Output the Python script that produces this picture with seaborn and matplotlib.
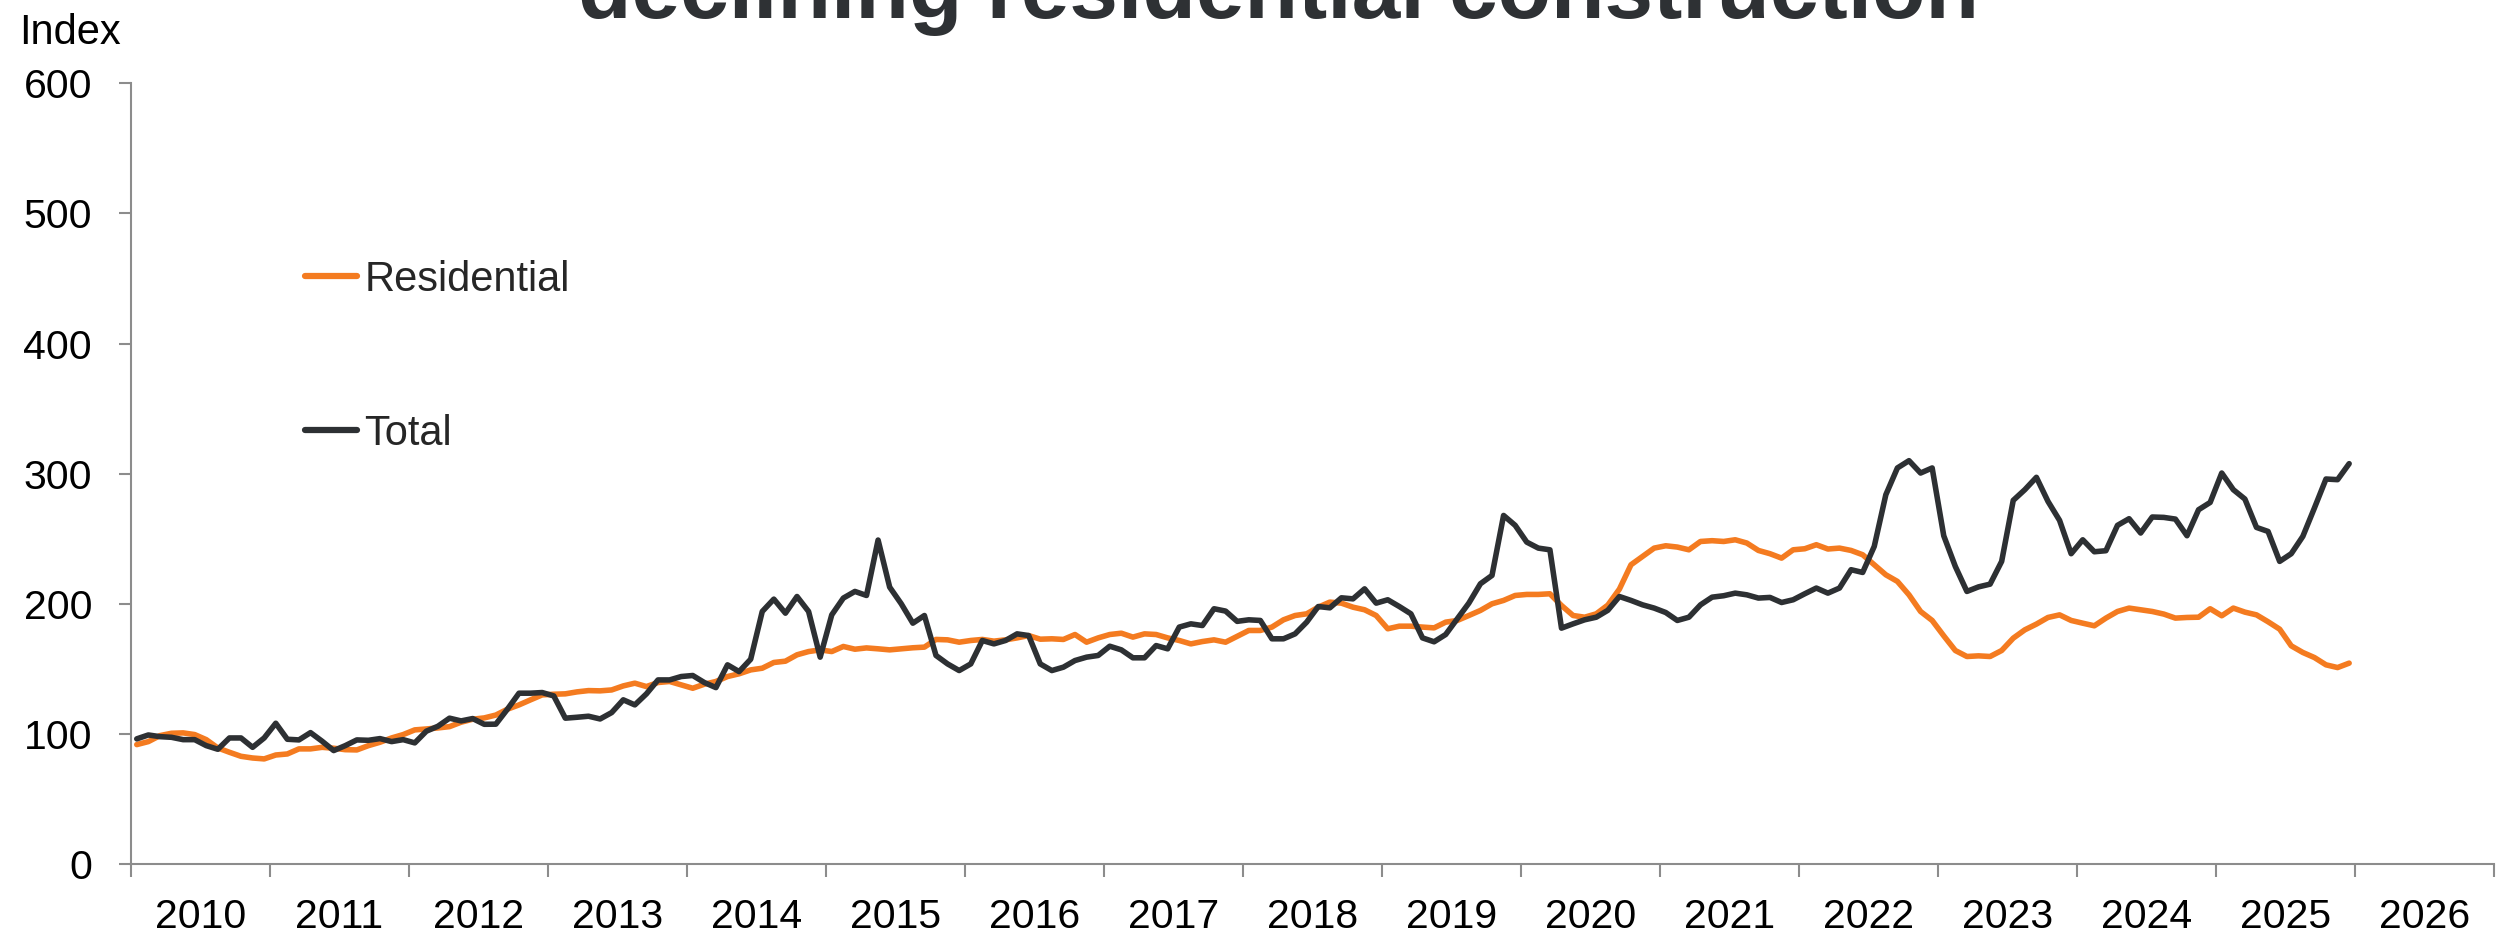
import numpy as np
import pandas as pd
import matplotlib
matplotlib.use("Agg")
import matplotlib.pyplot as plt
import seaborn as sns
from matplotlib.lines import Line2D

# ---------------- data (monthly index, Jan 2010 .. Dec 2025) ----------------
start_month = "2010-01"
n_months = 192

residential = [
    91.8, 94.1, 98.7, 100.5, 100.8, 99.5, 95.6, 89.2, 85.9, 82.8, 81.5, 80.8,
    83.8, 84.6, 88.5, 88.5, 89.7, 89.0, 87.9, 87.7, 91.0, 93.6, 96.9, 99.5,
    103.1, 103.8, 104.6, 105.6, 109.0, 111.3, 112.3, 114.5, 119.0, 122.3, 126.2, 130.0,
    130.5, 130.8, 132.3, 133.3, 133.1, 133.8, 136.9, 139.0, 136.4, 139.5, 140.3, 137.7,
    135.1, 138.2, 140.3, 144.1, 146.2, 149.2, 150.5, 154.9, 155.9, 160.8, 163.3, 164.6,
    163.3, 167.2, 165.1, 166.1, 165.4, 164.6, 165.4, 166.2, 166.7, 172.6, 172.3, 170.5,
    171.8, 172.6, 171.3, 172.3, 173.8, 175.6, 172.8, 173.1, 172.6, 176.4, 170.5, 173.8,
    176.4, 177.4, 174.4, 176.9, 176.4, 173.8, 171.8, 169.2, 171.0, 172.3, 170.5, 175.0,
    179.5, 179.5, 182.1, 187.7, 191.0, 192.3, 197.4, 201.3, 200.5, 197.4, 195.4, 191.0,
    180.8, 182.8, 182.8, 182.1, 181.5, 185.9, 187.2, 191.0, 194.9, 200.0, 202.6, 206.4,
    207.2, 207.2, 207.7, 198.7, 191.0, 189.7, 192.3, 199.0, 211.3, 230.0, 236.4, 242.8,
    244.6, 243.6, 241.5, 247.9, 248.5, 247.9, 249.2, 246.7, 241.0, 238.5, 235.1, 241.5,
    242.3, 245.4, 242.1, 242.8, 241.0, 237.7, 230.0, 222.3, 217.2, 206.9, 194.1, 187.2,
    175.4, 164.1, 159.5, 160.0, 159.5, 164.1, 173.6, 180.0, 184.4, 189.5, 191.5, 187.2,
    185.1, 183.1, 189.0, 194.1, 196.7, 195.4, 194.1, 192.1, 189.0, 189.5, 189.7, 196.2,
    190.8, 196.7, 193.6, 191.5, 186.2, 180.5, 167.7, 162.6, 158.7, 153.1, 151.0, 154.4,
]

total = [
    96.2, 99.2, 97.9, 97.4, 95.6, 95.6, 91.0, 88.2, 96.9, 96.9, 89.7, 96.9,
    108.2, 95.9, 95.4, 101.0, 94.4, 87.2, 91.0, 95.4, 95.1, 96.4, 94.1, 95.6,
    93.1, 102.1, 105.9, 112.1, 110.0, 111.8, 107.4, 107.5, 119.0, 131.3, 131.3, 131.8,
    129.2, 112.1, 112.8, 113.6, 111.5, 116.4, 126.2, 122.3, 130.8, 141.5, 141.5, 144.1,
    144.9, 139.5, 135.6, 153.1, 147.9, 157.4, 194.1, 203.6, 192.8, 205.6, 194.1, 159.0,
    191.5, 204.4, 209.5, 206.4, 249.0, 212.8, 200.0, 185.1, 191.0, 160.3, 153.8, 148.7,
    153.8, 171.8, 169.2, 171.8, 176.9, 175.6, 153.8, 148.7, 151.3, 156.4, 159.0, 160.3,
    167.4, 164.6, 158.5, 158.5, 167.9, 165.4, 182.1, 184.6, 183.3, 196.2, 194.4, 186.5,
    187.7, 187.2, 173.1, 173.1, 176.9, 185.9, 197.9, 196.9, 204.6, 203.8, 211.5, 200.5,
    203.1, 197.9, 192.3, 173.8, 170.8, 176.4, 188.5, 200.5, 215.4, 221.8, 267.9, 260.3,
    247.4, 242.8, 241.5, 181.3, 184.6, 187.7, 189.7, 195.0, 205.6, 202.6, 199.2, 196.7,
    193.3, 187.2, 189.7, 199.2, 205.1, 206.2, 208.2, 206.9, 204.4, 204.9, 201.0, 203.1,
    207.7, 212.1, 208.2, 212.1, 226.2, 224.1, 244.1, 283.8, 304.4, 310.0, 300.5, 304.4,
    252.3, 228.7, 209.5, 213.0, 215.1, 232.6, 279.5, 287.7, 297.2, 278.7, 264.1, 238.5,
    249.2, 240.0, 240.8, 260.3, 265.4, 254.4, 266.7, 266.4, 265.1, 252.3, 272.3, 277.9,
    300.5, 287.7, 280.5, 258.7, 255.6, 232.6, 238.5, 251.8, 273.6, 295.9, 295.4, 307.7,
]

series_names = ["Residential", "Total"]
year_labels = [str(y) for y in range(2010, 2027)]
y_ticks = [0, 100, 200, 300, 400, 500, 600]
title_text = "declining residential construction"
y_label = "Index"

# ---------------- build table ----------------
dates = pd.period_range(start_month, periods=n_months, freq="M")
xpos = dates.year + (dates.month - 0.5) / 12.0
df = pd.DataFrame({
    "x": np.concatenate([xpos, xpos]),
    "value": residential + total,
    "series": [series_names[0]] * n_months + [series_names[1]] * n_months,
})

# ---------------- style ----------------
sns.set_style("white")
plt.rcParams["font.family"] = ["Liberation Sans", "DejaVu Sans"]

ORANGE = "#F47B20"
DARK = "#2D3033"
AXIS_GREY = "#8C8C8C"

fig = plt.figure(figsize=(25.09, 9.34), dpi=100)
ax = fig.add_axes([0.0522, 0.0749, 0.9418, 0.8359])

sns.lineplot(data=df, x="x", y="value", hue="series",
             palette={series_names[0]: ORANGE, series_names[1]: DARK},
             hue_order=series_names, linewidth=4.0, ax=ax, legend=False)
for ln in ax.lines:
    ln.set_solid_joinstyle("round")
    ln.set_solid_capstyle("round")

ax.set_xlim(2010, 2027)
ax.set_ylim(0, 600)

# x: year boundaries as tick marks, labels centred on years
ax.set_xticks(range(2010, 2028))
ax.set_xticklabels([])
ax.set_xticks([y + 0.5 for y in range(2010, 2027)], minor=True)
ax.set_xticklabels(year_labels, minor=True)
ax.tick_params(axis="x", which="major", direction="out", length=9, width=1.5,
               color=AXIS_GREY, bottom=True)
ax.tick_params(axis="x", which="minor", length=0, pad=24.5, labelsize=29.5,
               labelcolor="black", bottom=True)

ax.set_yticks(y_ticks)
ax.set_yticklabels([str(v) for v in y_ticks])
ax.tick_params(axis="y", which="major", direction="out", length=9, width=1.5,
               color=AXIS_GREY, left=True, pad=19, labelsize=29.5,
               labelcolor="black")

for side in ["top", "right"]:
    ax.spines[side].set_visible(False)
for side in ["left", "bottom"]:
    ax.spines[side].set_color(AXIS_GREY)
    ax.spines[side].set_linewidth(1.5)

ax.set_xlabel("")
ax.set_ylabel("")

# legend
handles = [Line2D([0], [0], color=ORANGE, lw=4.5, solid_capstyle="round"),
           Line2D([0], [0], color=DARK, lw=4.5, solid_capstyle="round")]
fig.legend(handles, series_names, loc="upper left",
           bbox_to_anchor=(305 / 2509, 1 - 260 / 934), frameon=False,
           fontsize=30, handlelength=1.25, handletextpad=0.17,
           labelspacing=2.73, borderpad=0, borderaxespad=0)

# axis unit label and (cut-off) title, as in the source
fig.text(19 / 2509, 1 - 44 / 934, y_label, fontsize=30, ha="left",
         va="baseline", color="black")
fig.text(1278 / 2509, 1 - 18 / 934, title_text, fontsize=63, fontweight="bold",
         ha="center", va="baseline", color="#2E3134")

fig.savefig("out.png", dpi=100)
